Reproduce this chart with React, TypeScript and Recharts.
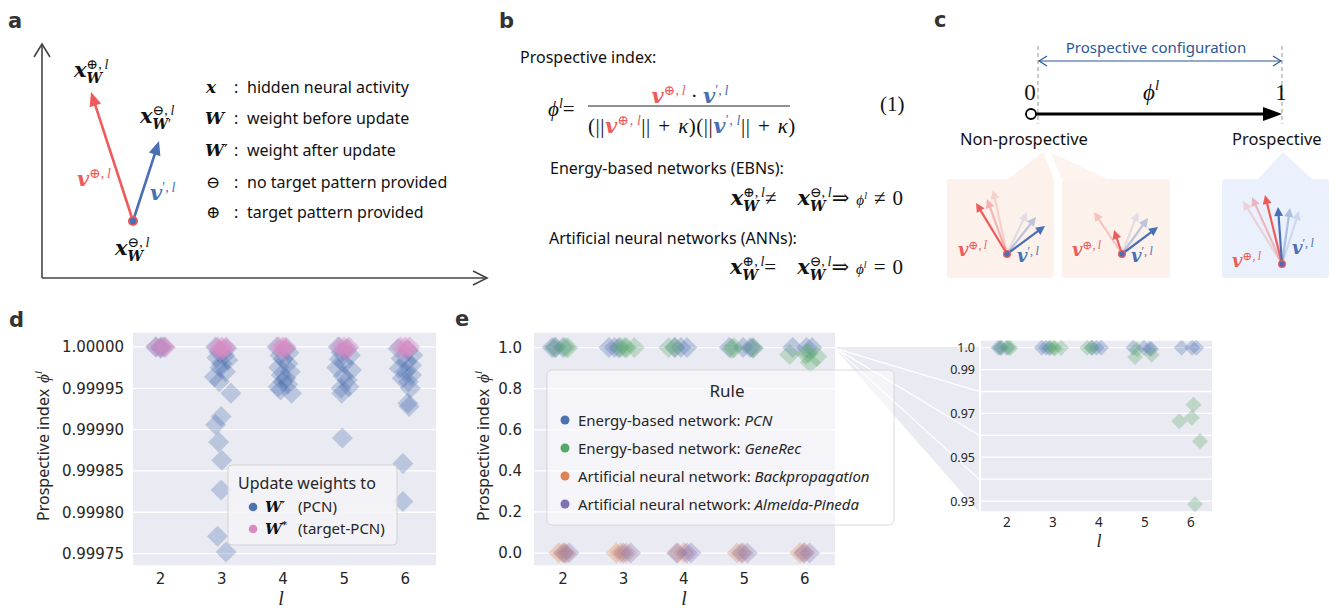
import React from 'react';
import { ScatterChart, Scatter, XAxis, YAxis, CartesianGrid } from 'recharts';

const PAGE_W = 1336;
const PAGE_H = 608;
const BLUE = '#4C72B0';
const PINK = '#DA8BC3';
const GREEN = '#55A868';
const ORANGE = '#DD8452';
const PURPLE = '#8172B3';
const RED_A = '#EE5B5B';
const BLUE_A = '#4A6FB5';
const SANS = "'Noto Sans', 'Open Sans', sans-serif";
const TICKF = "'DejaVu Sans', sans-serif";
const SERIF = "'Liberation Serif', 'DejaVu Serif', serif";
const BSERIF = "'DejaVu Serif', serif";
const INK = '#262626';

// ---------- data ----------
const layers = [2, 3, 4, 5, 6];
const dTicks = [0.99975, 0.9998, 0.99985, 0.9999, 0.99995, 1.0];
const eTicks = [0, 0.2, 0.4, 0.6, 0.8, 1.0];
const insetTicks = [0.93, 0.94, 0.95, 0.96, 0.97, 0.98, 0.99, 1.0];
const insetLabelled = [0.93, 0.95, 0.97, 0.99, 1.0];

// panel d: update weights to W' (PCN)
const pcnD: [number, number][] = [
  [1.92, 1.0], [2.0, 1.0], [2.06, 1.0], [2.0, 0.9999985],
  [2.9, 1.0], [3.08, 0.999998], [2.95, 0.999994], [3.05, 0.99999], [2.92, 0.999987], [3.1, 0.999984],
  [3.0, 0.99998], [2.97, 0.999975], [3.06, 0.99997], [2.88, 0.999964], [2.96, 0.999958], [3.15, 0.999944],
  [2.99, 0.999916], [2.9, 0.999906], [2.95, 0.999885], [3.0, 0.999863], [2.99, 0.999827], [2.93, 0.999771], [3.07, 0.999752],
  [3.9, 1.0], [4.05, 0.999998], [4.1, 0.999993], [3.95, 0.99999], [4.0, 0.999985], [4.08, 0.99998], [3.93, 0.999975],
  [4.12, 0.99997], [3.97, 0.999966], [4.05, 0.999962], [4.0, 0.999958], [3.92, 0.999952], [4.08, 0.999955], [4.14, 0.999944], [3.96, 0.999948],
  [4.9, 1.0], [5.05, 0.999998], [4.95, 0.999993], [5.1, 0.99999], [4.92, 0.999985], [5.0, 0.99998], [4.88, 0.999975],
  [5.12, 0.999972], [4.98, 0.999965], [5.05, 0.99996], [4.95, 0.99995], [5.08, 0.999952], [4.96, 0.999944], [4.97, 0.99989],
  [5.88, 0.999998], [6.05, 0.999996], [6.12, 0.99999], [5.93, 0.999986], [6.02, 0.999982], [6.1, 0.999978], [5.9, 0.999974],
  [6.0, 0.99997], [6.1, 0.999966], [5.95, 0.999962], [6.05, 0.999958], [6.08, 0.99995], [6.04, 0.999932], [6.06, 0.999928],
  [5.96, 0.999859], [5.96, 0.999813],
];
// panel d: update weights to W* (target-PCN)
const targetD: [number, number][] = [
  [1.93, 1.0], [2.03, 1.0], [2.08, 0.9999995],
  [2.93, 1.0], [3.0, 1.0], [3.07, 1.0], [3.03, 0.999997], [2.97, 0.999995],
  [3.93, 1.0], [4.0, 1.0], [4.05, 1.0], [4.02, 0.999996],
  [4.93, 1.0], [5.0, 1.0], [5.08, 1.0], [5.03, 0.999995],
  [5.92, 1.0], [6.0, 1.0], [6.07, 1.0], [6.02, 0.999996],
];
// panel e
const pcnE: [number, number][] = [
  [1.82, 1.0], [1.88, 1.0], [2.0, 1.0], [2.76, 1.0], [2.85, 1.0], [2.92, 0.9998],
  [3.85, 1.0], [3.95, 1.0], [4.05, 1.0], [4.75, 1.0], [4.98, 1.0], [5.1, 0.9995], [5.14, 0.9994],
  [5.8, 1.0], [6.03, 1.0], [6.12, 1.0],
];
const geneRecE: [number, number][] = [
  [1.86, 1.0], [2.04, 1.0], [2.08, 0.9998], [2.95, 1.0], [3.02, 1.0], [3.05, 0.9996], [3.18, 1.0],
  [3.75, 1.0], [3.85, 1.0], [4.83, 0.9992], [4.79, 0.9957], [5.15, 0.9968],
  [6.06, 0.974], [6.02, 0.968], [5.75, 0.9664], [6.2, 0.9573], [6.09, 0.9285],
];
const bpE: [number, number][] = [
  [1.93, 0.001], [2.0, 0.0], [2.05, -0.002], [2.88, 0.0], [2.95, 0.002], [3.05, 0.0],
  [3.9, 0.0], [4.0, 0.001], [4.88, 0.0], [4.98, 0.0], [5.92, 0.0], [6.0, 0.001],
];
const apE: [number, number][] = [
  [2.02, 0.0], [2.1, 0.001], [3.0, 0.0], [3.12, 0.0], [3.88, 0.0], [4.05, 0.0], [4.12, 0.001],
  [4.95, 0.0], [5.05, 0.0], [5.98, 0.0], [6.08, 0.0],
];

const dDomainY: [number, number] = [0.999735, 1.0000181];
const eDomainY: [number, number] = [-0.063, 1.076];
const insetDomainY: [number, number] = [0.925, 1.0035];

const toPts = (a: [number, number][]) => a.map(([l, phi]) => ({ l, phi }));

// ---------- helpers ----------
const diamond = (r: number, color: string, op: number) => (props: any) => {
  const { cx, cy } = props;
  if (cx == null || cy == null) return <g />;
  return (
    <polygon
      points={`${cx},${cy - r} ${cx + r},${cy} ${cx},${cy + r} ${cx - r},${cy}`}
      fill={color}
      fillOpacity={op}
    />
  );
};

const makeXTick = (dy: number, fs: number, font: string) => (p: any) => (
  <text x={p.x} y={p.y + dy} textAnchor="middle" fontSize={fs} fontFamily={font} fill={INK}>
    {p.payload.value}
  </text>
);
const makeYTick = (dx: number, fs: number, font: string, fmt: (v: number) => string) => (p: any) => (
  <text x={p.x - dx} y={p.y + fs * 0.36} textAnchor="end" fontSize={fs} fontFamily={font} fill={INK}>
    {fmt(p.payload.value)}
  </text>
);

function Arrow({ x1, y1, x2, y2, color, w = 2.5, hl = 12, hw = 5.5, op = 1 }: any) {
  const dx = x2 - x1;
  const dy = y2 - y1;
  const L = Math.hypot(dx, dy);
  const ux = dx / L;
  const uy = dy / L;
  const bx = x2 - ux * hl;
  const by = y2 - uy * hl;
  const px = -uy;
  const py = ux;
  return (
    <g opacity={op}>
      <line x1={x1} y1={y1} x2={x2 - ux * hl * 0.7} y2={y2 - uy * hl * 0.7} stroke={color} strokeWidth={w} />
      <polygon points={`${x2},${y2} ${bx + px * hw},${by + py * hw} ${bx - px * hw},${by - py * hw}`} fill={color} />
    </g>
  );
}

const Bv = ({ children }: any) => (
  <span style={{ fontFamily: BSERIF, fontWeight: 700, fontStyle: 'italic' }}>{children}</span>
);
const It = ({ children }: any) => <span style={{ fontStyle: 'italic' }}>{children}</span>;
const Sup = ({ children }: any) => (
  <span style={{ fontSize: '0.66em', verticalAlign: '0.6em' }}>{children}</span>
);
const SupSub = ({ sup, sub }: any) => (
  <span style={{ display: 'inline-block', fontSize: '0.66em', lineHeight: 1.0, verticalAlign: '-0.42em', textAlign: 'left' }}>
    <span style={{ display: 'block' }}>{sup}</span>
    <span style={{ display: 'block' }}>{sub}</span>
  </span>
);
const PlusL = () => <>⊕,{'\u2009'}<It>l</It></>;
const MinusL = () => <>⊖,{'\u2009'}<It>l</It></>;
const PrimeL = () => <>′,{'\u2009'}<It>l</It></>;

function MathAt({ x, y, size, color = '#111', anchor = 'start', children }: any) {
  const style: React.CSSProperties = {
    position: 'absolute',
    top: y - 1.3375 * size,
    fontFamily: SERIF,
    fontSize: size,
    lineHeight: `${2 * size}px`,
    color,
    whiteSpace: 'nowrap',
  };
  if (anchor === 'start') style.left = x;
  else if (anchor === 'end') style.right = PAGE_W - x;
  else {
    style.left = x - 300;
    style.width = 600;
    style.textAlign = 'center';
  }
  return <div style={style}>{children}</div>;
}

// ---------- charts ----------
function PanelD() {
  return (
    <div style={{ position: 'absolute', left: 0, top: 300 }}>
      <ScatterChart width={450} height={308} margin={{ top: 32, right: 14, bottom: 0, left: 0 }}>
        <CartesianGrid vertical={false} fill="#EAEAF2" fillOpacity={1} stroke="#FFFFFF" strokeWidth={1.3} />
        <XAxis type="number" dataKey="l" domain={[1.55, 6.5]} ticks={layers} allowDataOverflow
          axisLine={false} tickLine={false} tickSize={0} tickMargin={0} height={42}
          tick={makeXTick(17.5, 15, TICKF)} interval={0} />
        <YAxis type="number" dataKey="phi" domain={dDomainY} ticks={dTicks} allowDataOverflow
          axisLine={false} tickLine={false} tickSize={0} tickMargin={0} width={133}
          tick={makeYTick(9, 15, TICKF, (v) => v.toFixed(5))} interval={0} />
        <Scatter data={toPts(pcnD)} shape={diamond(10.5, BLUE, 0.3)} isAnimationActive={false} />
        <Scatter data={toPts(targetD)} shape={diamond(10.5, PINK, 0.45)} isAnimationActive={false} />
      </ScatterChart>
    </div>
  );
}

function PanelE() {
  return (
    <div style={{ position: 'absolute', left: 420, top: 300 }}>
      <ScatterChart width={430} height={308} margin={{ top: 32, right: 15, bottom: 0, left: 0 }}>
        <CartesianGrid vertical={false} fill="#EAEAF2" fillOpacity={1} stroke="#FFFFFF" strokeWidth={1.3} />
        <XAxis type="number" dataKey="l" domain={[1.52, 6.5]} ticks={layers} allowDataOverflow
          axisLine={false} tickLine={false} tickSize={0} tickMargin={0} height={42}
          tick={makeXTick(17.5, 15, TICKF)} interval={0} />
        <YAxis type="number" dataKey="phi" domain={eDomainY} ticks={eTicks} allowDataOverflow
          axisLine={false} tickLine={false} tickSize={0} tickMargin={0} width={114}
          tick={makeYTick(12, 15, TICKF, (v) => v.toFixed(1))} interval={0} />
        <Scatter data={toPts(bpE)} shape={diamond(10.5, ORANGE, 0.3)} isAnimationActive={false} />
        <Scatter data={toPts(apE)} shape={diamond(10.5, PURPLE, 0.3)} isAnimationActive={false} />
        <Scatter data={toPts(pcnE)} shape={diamond(10.5, BLUE, 0.3)} isAnimationActive={false} />
        <Scatter data={toPts(geneRecE)} shape={diamond(10.5, GREEN, 0.3)} isAnimationActive={false} />
      </ScatterChart>
    </div>
  );
}

function PanelInset() {
  return (
    <div style={{ position: 'absolute', left: 900, top: 300 }}>
      <ScatterChart width={330} height={250} margin={{ top: 40, right: 18, bottom: 0, left: 0 }}>
        <CartesianGrid vertical={false} fill="#EAEAF2" fillOpacity={1} stroke="#FFFFFF" strokeWidth={1.3} />
        <XAxis type="number" dataKey="l" domain={[1.44, 6.46]} ticks={layers} allowDataOverflow
          axisLine={false} tickLine={false} tickSize={0} tickMargin={0} height={38}
          tick={makeXTick(15, 13.5, SANS)} interval={0} />
        <YAxis type="number" dataKey="phi" domain={insetDomainY} ticks={insetTicks} allowDataOverflow
          axisLine={false} tickLine={false} tickSize={0} tickMargin={0} width={81}
          tick={makeYTick(6, 12.5, SANS, (v) => {
            const hit = insetLabelled.some((t) => Math.abs(t - v) < 1e-6);
            if (!hit) return '';
            return Math.abs(v - 1) < 1e-6 ? '1.0' : v.toFixed(2);
          })} interval={0} />
        <Scatter data={toPts(pcnE)} shape={diamond(8, BLUE, 0.3)} isAnimationActive={false} />
        <Scatter data={toPts(geneRecE)} shape={diamond(8, GREEN, 0.3)} isAnimationActive={false} />
      </ScatterChart>
    </div>
  );
}

// inset / e geometry (for the zoom wedge decoration)
const INSET_TOP = 340;
const INSET_BOTTOM = 512;
const insetY = (v: number) =>
  INSET_TOP + ((insetDomainY[1] - v) / (insetDomainY[1] - insetDomainY[0])) * (INSET_BOTTOM - INSET_TOP);
const E_TOP = 332;
const E_BOTTOM = 566;
const eY = (v: number) => E_TOP + ((eDomainY[1] - v) / (eDomainY[1] - eDomainY[0])) * (E_BOTTOM - E_TOP);

function Underlay() {
  const fanX = 836;
  const fanY = eY(1.0);
  const wedgeRight = 979;
  return (
    <svg width={PAGE_W} height={PAGE_H} style={{ position: 'absolute', left: 0, top: 0 }}>
      <polygon points={`${fanX},${fanY - 0.5} ${wedgeRight},${fanY - 0.5} ${wedgeRight},${INSET_BOTTOM} ${fanX},${fanY + 2}`} fill="#EAEAF2" />
      {[0.98, 0.96, 0.94].map((v) => (
        <line key={v} x1={fanX} y1={fanY + 1} x2={wedgeRight} y2={insetY(v)} stroke="#FFFFFF" strokeWidth={1.3} />
      ))}
    </svg>
  );
}

function Overlay() {
  return (
    <svg width={PAGE_W} height={PAGE_H} style={{ position: 'absolute', left: 0, top: 0 }}>
      {/* panel letters */}
      {[['a', 8, 28], ['b', 499, 28], ['c', 934, 27], ['d', 9, 327], ['e', 455, 326]].map(([t, x, y]: any) => (
        <text key={t} x={x} y={y} fontFamily="'DejaVu Sans', sans-serif" fontWeight={700} fontSize={21} fill="#333">{t}</text>
      ))}

      {/* ----- panel a ----- */}
      <g stroke="#444" strokeWidth={1.6} fill="none">
        <path d="M42,278 L42,45" />
        <path d="M42,278 L486,278" />
        <path d="M34,57 L42,44 L50,57" />
        <path d="M473,271 L487,278 L473,285" />
      </g>
      <Arrow x1={133} y1={221} x2={91} y2={92} color={RED_A} w={2.6} hl={14} hw={6} />
      <Arrow x1={133} y1={221} x2={159} y2={141} color={BLUE_A} w={2.6} hl={14} hw={6} />
      <circle cx={133} cy={221} r={4.2} fill={BLUE_A} stroke={RED_A} strokeWidth={1.8} />
      <g fontFamily={BSERIF} fontWeight={700} fontStyle="italic" fontSize={17} fill="#111">
        <text x={206} y={93}>x</text>
        <text x={205} y={124}>W</text>
        <text x={205} y={156}>W<tspan fontWeight={400} fontStyle="normal">′</tspan></text>
      </g>
      <g fontFamily={BSERIF} fontSize={17} fill="#111">
        <text x={206} y={188}>⊖</text>
        <text x={206} y={218}>⊕</text>
      </g>
      <g fontFamily={SANS} fontSize={16} fill="#111">
        {[93, 124, 156, 188, 218].map((y) => (
          <text key={y} x={234} y={y}>:</text>
        ))}
        <text x={247} y={93}>hidden neural activity</text>
        <text x={247} y={124}>weight before update</text>
        <text x={247} y={156}>weight after update</text>
        <text x={247} y={188}>no target pattern provided</text>
        <text x={247} y={218}>target pattern provided</text>
      </g>

      {/* ----- panel b ----- */}
      <g fontFamily={SANS} fontSize={16} fill="#111">
        <text x={520} y={63}>Prospective index:</text>
        <text x={550} y={174}>Energy-based networks (EBNs):</text>
        <text x={549} y={244}>Artificial neural networks (ANNs):</text>
      </g>
      <line x1={588} y1={106} x2={790} y2={106} stroke="#222" strokeWidth={1} />

      {/* ----- panel c ----- */}
      <g stroke="#AAAAAA" strokeWidth={1.2} strokeDasharray="4 3">
        <line x1={1038} y1={46} x2={1038} y2={124} />
        <line x1={1282} y1={46} x2={1282} y2={124} />
      </g>
      <text x={1156} y={53} textAnchor="middle" fontFamily={SANS} fontSize={15} fill="#2B5797">Prospective configuration</text>
      <g stroke="#2B5797" strokeWidth={1.2} fill="none">
        <line x1={1039} y1={61} x2={1281} y2={61} />
        <path d="M1047,56 L1039,61 L1047,66" />
        <path d="M1273,56 L1281,61 L1273,66" />
      </g>
      <g fontFamily={SERIF} fontSize={23} fill="#111">
        <text x={1030} y={100} textAnchor="middle">0</text>
        <text x={1281} y={100} textAnchor="middle">1</text>
        <text x={1143} y={100} fontStyle="italic">ϕ<tspan dy={-10} fontSize={15}>l</tspan></text>
      </g>
      <line x1={1036} y1={114} x2={1266} y2={114} stroke="#000" strokeWidth={3.2} />
      <polygon points="1282,114 1263,107 1263,121" fill="#000" />
      <circle cx={1031} cy={114} r={5} fill="#fff" stroke="#000" strokeWidth={1.8} />
      <g fontFamily={SANS} fontSize={16.5} fill="#111">
        <text x={960} y={145}>Non-prospective</text>
        <text x={1232} y={145}>Prospective</text>
      </g>
      <polygon points="1008,179 1043,152 1054,179" fill="#FDF1EB" />
      <polygon points="1062,179 1050,152 1108,179" fill="#FDF4EF" />
      <polygon points="1258,179 1283,152 1312,179" fill="#EAF1FC" />
      <rect x={947} y={179} width={107} height={99} rx={3} fill="#FDF1EB" />
      <rect x={1062} y={179} width={108} height={99} rx={3} fill="#FDF1EB" />
      <rect x={1222} y={179} width={107} height={99} rx={3} fill="#EAF1FC" />
      {/* box 1 */}
      <Arrow x1={1007} y1={254} x2={993} y2={190} color={RED_A} w={2.2} hl={9} hw={4.5} op={0.22} />
      <Arrow x1={1007} y1={254} x2={987} y2={199} color={RED_A} w={2.2} hl={9} hw={4.5} op={0.4} />
      <Arrow x1={1007} y1={254} x2={976} y2={203} color={RED_A} w={2.2} hl={9} hw={4.5} />
      <Arrow x1={1007} y1={254} x2={1027} y2={212} color={BLUE_A} w={2.2} hl={9} hw={4.5} op={0.15} />
      <Arrow x1={1007} y1={254} x2={1036} y2={217} color={BLUE_A} w={2.2} hl={9} hw={4.5} op={0.35} />
      <Arrow x1={1007} y1={254} x2={1045} y2={226} color={BLUE_A} w={2.2} hl={9} hw={4.5} />
      <circle cx={1007} cy={254} r={3.3} fill={BLUE_A} stroke={RED_A} strokeWidth={1.3} />
      {/* box 2 */}
      <Arrow x1={1122} y1={254} x2={1094} y2={212} color={RED_A} w={2.2} hl={9} hw={4.5} op={0.3} />
      <Arrow x1={1122} y1={254} x2={1114} y2={230} color={RED_A} w={2.2} hl={9} hw={4.5} />
      <Arrow x1={1122} y1={254} x2={1138} y2={212} color={BLUE_A} w={2.2} hl={9} hw={4.5} op={0.15} />
      <Arrow x1={1122} y1={254} x2={1148} y2={218} color={BLUE_A} w={2.2} hl={9} hw={4.5} op={0.35} />
      <Arrow x1={1122} y1={254} x2={1158} y2={227} color={BLUE_A} w={2.2} hl={9} hw={4.5} />
      <circle cx={1122} cy={254} r={3.3} fill={BLUE_A} stroke={RED_A} strokeWidth={1.3} />
      {/* box 3 */}
      <Arrow x1={1282} y1={264} x2={1243} y2={201} color={RED_A} w={2.2} hl={9} hw={4.5} op={0.2} />
      <Arrow x1={1282} y1={264} x2={1252} y2={197} color={RED_A} w={2.2} hl={9} hw={4.5} op={0.38} />
      <Arrow x1={1282} y1={264} x2={1265} y2={195} color={RED_A} w={2.2} hl={9} hw={4.5} />
      <Arrow x1={1282} y1={264} x2={1299} y2={211} color={BLUE_A} w={2.2} hl={9} hw={4.5} op={0.18} />
      <Arrow x1={1282} y1={264} x2={1290} y2={208} color={BLUE_A} w={2.2} hl={9} hw={4.5} op={0.38} />
      <Arrow x1={1282} y1={264} x2={1278} y2={207} color={BLUE_A} w={2.2} hl={9} hw={4.5} />
      <circle cx={1282} cy={264} r={3.3} fill={BLUE_A} stroke={RED_A} strokeWidth={1.3} />

      {/* ----- axis titles ----- */}
      <text transform="translate(49,446) rotate(-90)" textAnchor="middle" fontFamily={SANS} fontSize={16} fill={INK}>
        Prospective index<tspan dx={6} fontFamily={SERIF} fontStyle="italic" fontSize={17}>ϕ</tspan>
        <tspan dy={-7} fontFamily={SERIF} fontStyle="italic" fontSize={11}>l</tspan>
      </text>
      <text transform="translate(489,446) rotate(-90)" textAnchor="middle" fontFamily={SANS} fontSize={16} fill={INK}>
        Prospective index<tspan dx={6} fontFamily={SERIF} fontStyle="italic" fontSize={17}>ϕ</tspan>
        <tspan dy={-7} fontFamily={SERIF} fontStyle="italic" fontSize={11}>l</tspan>
      </text>
      <g fontFamily={SERIF} fontStyle="italic" fill={INK}>
        <text x={281} y={605} textAnchor="middle" fontSize={20}>l</text>
        <text x={684} y={605} textAnchor="middle" fontSize={20}>l</text>
        <text x={1099} y={547} textAnchor="middle" fontSize={18}>l</text>
      </g>

      {/* ----- legend d ----- */}
      <rect x={228} y={465} width={169} height={80} rx={4} fill="#F4F4F8" fillOpacity={0.8} stroke="#CCCCCC" strokeOpacity={0.8} />
      <text x={238} y={489} fontFamily={SANS} fontSize={16} fill={INK}>Update weights to</text>
      <circle cx={253} cy={507} r={4.3} fill={BLUE} />
      <circle cx={253} cy={529} r={4.3} fill={PINK} />
      <g fontFamily={BSERIF} fontWeight={700} fontStyle="italic" fontSize={15} fill="#111">
        <text x={265} y={512}>W<tspan fontWeight={400} fontStyle="normal">′</tspan></text>
        <text x={265} y={534}>W<tspan dy={-6} fontSize={10} fontStyle="normal">*</tspan></text>
      </g>
      <g fontFamily={SANS} fontSize={15} fill={INK}>
        <text x={298} y={512}>(PCN)</text>
        <text x={298} y={534}>(target-PCN)</text>
      </g>

      {/* ----- legend e ----- */}
      <rect x={547} y={370} width={347} height={155} rx={5} fill="#FFFFFF" fillOpacity={0.5} stroke="#CCCCCC" strokeOpacity={0.7} />
      <text x={727} y={397} textAnchor="middle" fontFamily={SANS} fontSize={17} fill={INK}>Rule</text>
      {[
        [BLUE, 'Energy-based network: ', 'PCN', 420],
        [GREEN, 'Energy-based network: ', 'GeneRec', 448],
        [ORANGE, 'Artificial neural network: ', 'Backpropagation', 476],
        [PURPLE, 'Artificial neural network: ', 'Almeida-Pineda', 504],
      ].map(([c, a, b, y]: any) => (
        <g key={b}>
          <circle cx={565} cy={y} r={4.5} fill={c} />
          <text x={578} y={y + 5.5} fontFamily={SANS} fontSize={15} fill={INK}>
            {a}<tspan fontStyle="italic">{b}</tspan>
          </text>
        </g>
      ))}
    </svg>
  );
}

function MathLayer() {
  return (
    <>
      {/* panel a */}
      <MathAt x={74} y={77} size={21}><Bv>x</Bv><SupSub sup={<PlusL />} sub={<Bv>W</Bv>} /></MathAt>
      <MathAt x={140} y={123} size={21}><Bv>x</Bv><SupSub sup={<MinusL />} sub={<><Bv>W</Bv>′</>} /></MathAt>
      <MathAt x={77} y={181} size={21} color={RED_A}><Bv>v</Bv><Sup><PlusL /></Sup></MathAt>
      <MathAt x={150} y={195} size={21} color={BLUE_A}><Bv>v</Bv><Sup><PrimeL /></Sup></MathAt>
      <MathAt x={115} y={255} size={21}><Bv>x</Bv><SupSub sup={<MinusL />} sub={<Bv>W</Bv>} /></MathAt>

      {/* panel b */}
      <MathAt x={548} y={111} size={21}><It>ϕ</It><Sup><It>l</It></Sup>=</MathAt>
      <MathAt x={690} y={98} size={21} anchor="middle">
        <span style={{ color: RED_A }}><Bv>v</Bv><Sup><PlusL /></Sup></span>
        {' · '}
        <span style={{ color: BLUE_A }}><Bv>v</Bv><Sup><PrimeL /></Sup></span>
      </MathAt>
      <MathAt x={588} y={128} size={21}>
        <span style={{ letterSpacing: '0.5px' }}>
          (||<span style={{ color: RED_A }}><Bv>v</Bv><Sup><PlusL /></Sup></span>||{'\u2004'}+{'\u2004'}<It>κ</It>)(||
          <span style={{ color: BLUE_A }}><Bv>v</Bv><Sup><PrimeL /></Sup></span>||{'\u2004'}+{'\u2004'}<It>κ</It>)
        </span>
      </MathAt>
      <MathAt x={880} y={111} size={21}>(1)</MathAt>
      <MathAt x={903} y={203} size={21} anchor="end">
        <Bv>x</Bv><SupSub sup={<PlusL />} sub={<Bv>W</Bv>} />≠{'\u2003'}<Bv>x</Bv><SupSub sup={<MinusL />} sub={<Bv>W</Bv>} />⇒{'\u2004'}
        <span style={{ fontSize: '0.72em' }}><It>ϕ</It><Sup><It>l</It></Sup></span>{'\u2004'}≠{'\u2004'}0
      </MathAt>
      <MathAt x={903} y={272} size={21} anchor="end">
        <Bv>x</Bv><SupSub sup={<PlusL />} sub={<Bv>W</Bv>} />={'\u2003'}<Bv>x</Bv><SupSub sup={<MinusL />} sub={<Bv>W</Bv>} />⇒{'\u2004'}
        <span style={{ fontSize: '0.72em' }}><It>ϕ</It><Sup><It>l</It></Sup></span>{'\u2004'}={'\u2004'}0
      </MathAt>

      {/* panel c box labels */}
      <MathAt x={958} y={251} size={18} color={RED_A}><Bv>v</Bv><Sup><PlusL /></Sup></MathAt>
      <MathAt x={1017} y={257} size={18} color={BLUE_A}><Bv>v</Bv><Sup><PrimeL /></Sup></MathAt>
      <MathAt x={1072} y={251} size={18} color={RED_A}><Bv>v</Bv><Sup><PlusL /></Sup></MathAt>
      <MathAt x={1131} y={257} size={18} color={BLUE_A}><Bv>v</Bv><Sup><PrimeL /></Sup></MathAt>
      <MathAt x={1232} y={262} size={18} color={RED_A}><Bv>v</Bv><Sup><PlusL /></Sup></MathAt>
      <MathAt x={1292} y={249} size={18} color={BLUE_A}><Bv>v</Bv><Sup><PrimeL /></Sup></MathAt>
    </>
  );
}

export default function App() {
  return (
    <div style={{ position: 'absolute', left: 0, top: 0, width: PAGE_W, height: PAGE_H, background: '#fff', overflow: 'hidden' }}>
      <Underlay />
      <PanelD />
      <PanelE />
      <PanelInset />
      <Overlay />
      <MathLayer />
    </div>
  );
}
